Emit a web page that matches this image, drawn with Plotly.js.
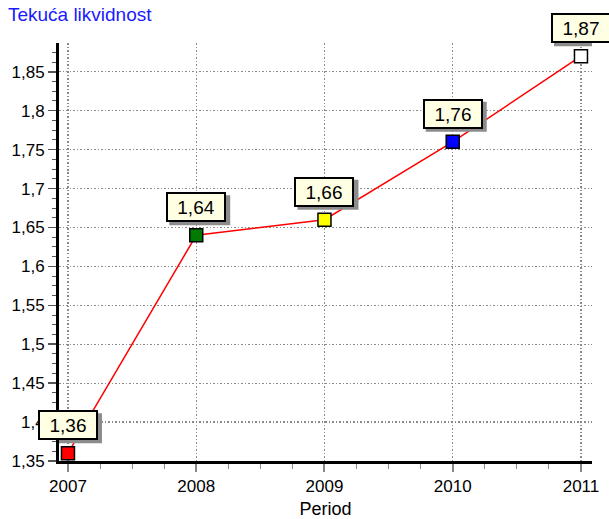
<!DOCTYPE html>
<html>
<head>
<meta charset="utf-8">
<script src="https://cdn.plot.ly/plotly-3.0.1.min.js"></script>
<style>html,body{margin:0;padding:0;background:#fff;}</style>
</head>
<body>
<div id="chart" style="width:609px;height:519px;"></div>
<script>
const years = [2007, 2008, 2009, 2010, 2011];
const values = [1.36, 1.64, 1.66, 1.76, 1.87];
const valueLabels = ['1,36', '1,64', '1,66', '1,76', '1,87'];
const markerColors = ['#ff0000', '#007a00', '#ffff00', '#0000ff', '#ffffff'];
const yTickVals = [1.35, 1.4, 1.45, 1.5, 1.55, 1.6, 1.65, 1.7, 1.75, 1.8, 1.85];
const yTickText = ['1,35', '1,4', '1,45', '1,5', '1,55', '1,6', '1,65', '1,7', '1,75', '1,8', '1,85'];
const xTickText = ['2007', '2008', '2009', '2010', '2011'];

const FONT = 'Liberation Sans, Arial, sans-serif';

const trace = {
  x: years,
  y: values,
  type: 'scatter',
  mode: 'lines+markers',
  line: {color: '#ff0000', width: 1.5},
  marker: {symbol: 'square', size: 13, color: markerColors, line: {color: '#000', width: 1.5}},
  cliponaxis: false,
  hoverinfo: 'none'
};

const annotations = [];
const shapes = [];
years.forEach((yr, i) => {
  // drop shadow behind each label box (pixel-sized, anchored on the data point)
  shapes.push({
    type: 'rect', xref: 'x', yref: 'y',
    xsizemode: 'pixel', ysizemode: 'pixel',
    xanchor: yr, yanchor: values[i],
    x0: -27, x1: 34, y0: 10, y1: 40,
    fillcolor: '#8c8c8c', line: {width: 0}, layer: 'above'
  });
  annotations.push({
    x: yr, y: values[i], xref: 'x', yref: 'y',
    text: valueLabels[i], showarrow: false,
    xanchor: 'center', yanchor: 'bottom',
    yshift: 13,
    font: {family: FONT, size: 19, color: '#000'},
    bgcolor: '#ffffe3', bordercolor: '#000', borderwidth: 2, borderpad: 1,
    width: 54, height: 24
  });
});

const layout = {
  width: 609, height: 519,
  margin: {l: 59, r: 17, t: 43, b: 58},
  paper_bgcolor: '#fff', plot_bgcolor: '#fff',
  showlegend: false,
  font: {family: FONT, size: 16, color: '#000'},
  title: {
    text: 'Tekuća likvidnost',
    font: {family: FONT, size: 19, color: '#1a1aff'},
    xref: 'container', yref: 'container',
    x: 0.013, xanchor: 'left', y: 0.985, yanchor: 'top'
  },
  xaxis: {
    range: [2006.93, 2011.086],
    tickvals: years, ticktext: xTickText,
    ticks: 'outside', ticklen: 8, tickwidth: 2, tickcolor: '#888',
    tickfont: {family: FONT, size: 17, color: '#000'},
    showline: true, linecolor: '#000', linewidth: 3,
    showgrid: true, gridcolor: '#8a8a8a', griddash: '1.5px,2px', gridwidth: 1.2,
    zeroline: false,
    minor: {dtick: 0.25, tick0: 2007, ticks: 'outside', ticklen: 5, tickwidth: 1, tickcolor: '#888', showgrid: false},
    title: {text: 'Period', font: {family: FONT, size: 18, color: '#000'}, standoff: 8}
  },
  yaxis: {
    range: [1.35, 1.887],
    tickvals: yTickVals, ticktext: yTickText,
    ticks: 'outside', ticklen: 8, tickwidth: 1.5, tickcolor: '#555',
    tickfont: {family: FONT, size: 17, color: '#000'},
    showline: true, linecolor: '#000', linewidth: 3,
    showgrid: true, gridcolor: '#8a8a8a', griddash: '1.5px,2px', gridwidth: 1.2,
    zeroline: false,
    minor: {dtick: 0.0125, tick0: 1.35, ticks: 'outside', ticklen: 4, tickwidth: 1, tickcolor: '#555', showgrid: false}
  },
  shapes: shapes,
  annotations: annotations
};

Plotly.newPlot('chart', [trace], layout, {displayModeBar: false, staticPlot: true});
</script>
</body>
</html>
